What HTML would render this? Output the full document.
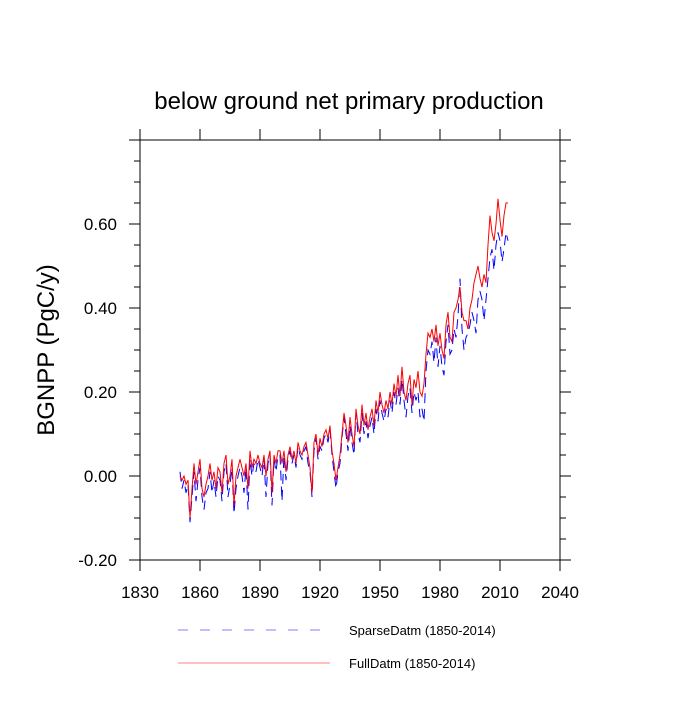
<!DOCTYPE html>
<html><head><meta charset="utf-8"><style>
body{margin:0;background:#fff;width:700px;height:700px;overflow:hidden}
text{font-family:"Liberation Sans",sans-serif}
</style></head><body>
<svg id="c" width="700" height="700">
<text x="349" y="109" font-size="24" text-anchor="middle">below ground net primary production</text>
<text transform="translate(54,350) rotate(-90)" font-size="24" text-anchor="middle">BGNPP  (PgC/y)</text>
<g id="axes"></g>
<g id="series"></g>
<g>
<line x1="178" y1="630" x2="330" y2="630" stroke="#8080ff" stroke-width="1" stroke-dasharray="10,12"/>
<text x="349" y="635" font-size="13">SparseDatm (1850-2014)</text>
<line x1="178" y1="663" x2="330" y2="663" stroke="#ff8080" stroke-width="1"/>
<text x="349" y="668" font-size="13">FullDatm (1850-2014)</text>
</g>
</svg>
<script>
const startYear=1850;
const xTicks=[1830,1860,1890,1920,1950,1980,2010,2040];
const yTicks=[-0.2,0.0,0.2,0.4,0.6];
const yTickLabels=["-0.20","0.00","0.20","0.40","0.60"];
const fullDatm=[0.00,-0.01,0.00,-0.02,-0.01,-0.10,-0.03,0.03,-0.02,0.01,
0.04,-0.03,-0.05,-0.02,0.00,0.03,-0.01,0.01,-0.03,0.02,
0.01,-0.04,0.03,0.05,-0.02,0.00,0.04,-0.07,0.00,0.02,
0.04,0.02,0.00,0.03,-0.03,0.06,0.02,0.04,0.03,0.05,
0.03,0.02,0.05,0.00,0.04,0.06,-0.04,0.05,0.03,0.06,
0.06,0.03,0.06,0.01,0.05,0.07,0.04,0.06,0.03,0.08,
0.06,0.05,0.07,0.08,0.05,0.02,-0.04,0.08,0.10,0.05,
0.09,0.07,0.10,0.11,0.09,0.12,0.06,0.03,-0.01,0.02,
0.05,0.10,0.15,0.12,0.08,0.14,0.10,0.07,0.16,0.12,
0.10,0.17,0.12,0.15,0.11,0.14,0.16,0.12,0.18,0.15,
0.20,0.17,0.15,0.18,0.16,0.20,0.17,0.22,0.19,0.24,
0.19,0.26,0.20,0.18,0.22,0.24,0.17,0.23,0.21,0.25,
0.20,0.19,0.22,0.29,0.34,0.33,0.35,0.32,0.36,0.31,
0.34,0.30,0.28,0.36,0.39,0.33,0.32,0.39,0.40,0.42,
0.45,0.39,0.37,0.37,0.35,0.40,0.42,0.46,0.48,0.50,
0.47,0.45,0.48,0.46,0.55,0.62,0.58,0.56,0.60,0.66,
0.61,0.57,0.62,0.65,0.65];
const sparseDatm=[0.01,-0.03,-0.01,-0.04,-0.02,-0.11,-0.05,0.01,-0.06,-0.01,
0.02,-0.05,-0.08,-0.04,-0.03,0.01,-0.04,-0.01,-0.05,0.00,
-0.01,-0.06,0.01,0.03,-0.05,-0.02,0.02,-0.09,-0.03,0.00,
0.02,0.00,-0.04,0.02,-0.08,0.04,0.00,0.03,0.01,0.04,
0.02,0.00,0.04,-0.05,0.03,0.05,-0.07,0.04,0.01,0.05,
0.05,-0.06,0.05,-0.01,0.04,0.06,0.03,0.05,0.02,0.07,
0.05,0.04,0.06,0.07,0.03,0.01,-0.05,0.06,0.09,0.04,
0.07,0.06,0.09,0.10,0.08,0.11,0.05,0.01,-0.03,0.01,
0.03,0.09,0.14,0.10,0.06,0.12,0.08,0.05,0.15,0.10,
0.08,0.15,0.10,0.13,0.09,0.12,0.14,0.10,0.16,0.13,
0.18,0.15,0.13,0.16,0.14,0.18,0.15,0.20,0.17,0.21,
0.17,0.23,0.18,0.14,0.19,0.21,0.15,0.20,0.18,0.20,
0.14,0.16,0.13,0.25,0.30,0.29,0.32,0.27,0.33,0.26,
0.31,0.26,0.24,0.32,0.36,0.29,0.30,0.35,0.33,0.38,
0.47,0.35,0.30,0.33,0.34,0.36,0.39,0.37,0.34,0.42,
0.44,0.42,0.37,0.42,0.47,0.52,0.54,0.49,0.55,0.58,
0.56,0.51,0.54,0.58,0.56];
const NS="http://www.w3.org/2000/svg";
const L=140,R=560,T=140,B=560;
function xs(v){return L+(v-1830)/210*(R-L);}
function ys(v){return B-(v+0.2)/1.0*(B-T);}
const ax=document.getElementById('axes');
function mk(tag,attrs,parent){const e=document.createElementNS(NS,tag);for(const k in attrs)e.setAttribute(k,attrs[k]);parent.appendChild(e);return e;}
const frame=mk('rect',{x:L,y:T,width:R-L,height:B-T,fill:'none',stroke:'#000','stroke-width':1},ax);


xTicks.forEach(v=>{const x=xs(v);
 const t1=mk('line',{x1:x,y1:B,x2:x,y2:B+11,stroke:'#000'},ax);
 
 
 const t2=mk('line',{x1:x,y1:T,x2:x,y2:T-11,stroke:'#000'},ax);
 
 
 const t=mk('text',{x:x,y:B+38,'font-size':17,'text-anchor':'middle'},ax);t.textContent=v;
 
 });
for(let i=0;i<=20;i++){const v=-0.2+i*0.05;const y=ys(v);const len=i%4===0?11:6;
 const t1=mk('line',{x1:L,y1:y,x2:L-len,y2:y,stroke:'#000'},ax);
 
 
 const t2=mk('line',{x1:R,y1:y,x2:R+len,y2:y,stroke:'#000'},ax);
 
 }
yTicks.forEach((v,i)=>{const t=mk('text',{x:L-23,y:ys(v)+6,'font-size':17,'text-anchor':'end'},ax);t.textContent=yTickLabels[i];
 
 });
const sg=document.getElementById('series');
function pts(a){return a.map((v,i)=>xs(startYear+i)+','+ys(v)).join(' ');}
const pb=mk('polyline',{points:pts(sparseDatm),fill:'none',stroke:'#0000ff','stroke-width':1,'stroke-dasharray':'10,6'},sg);


const pr=mk('polyline',{points:pts(fullDatm),fill:'none',stroke:'#ff0000','stroke-width':1},sg);


</script>
</body></html>
